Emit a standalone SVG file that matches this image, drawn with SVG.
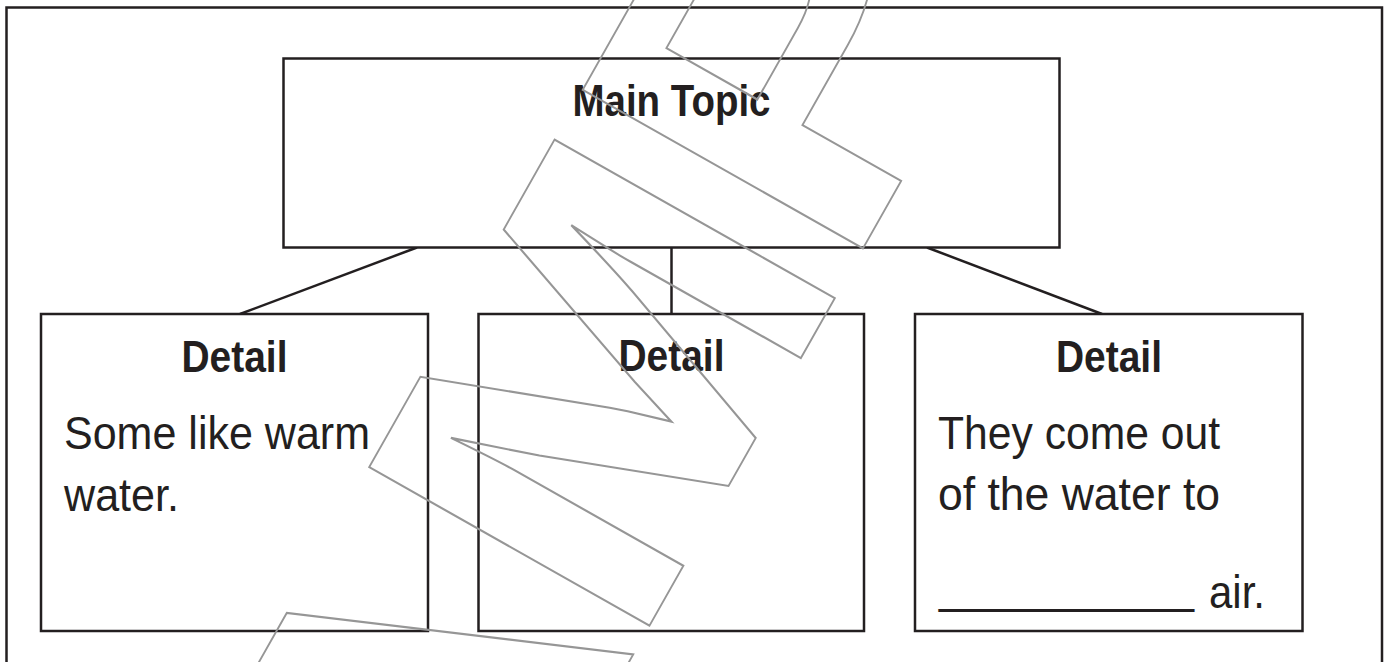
<svg xmlns="http://www.w3.org/2000/svg" width="1387" height="662" viewBox="0 0 1387 662">
<style>
.box{fill:#fff;stroke:#231f20;stroke-width:2.5}
.frame{fill:none;stroke:#231f20;stroke-width:2.5}
.conn{stroke:#231f20;stroke-width:2.5;fill:none}
.h{font-family:"Liberation Sans",Arial,sans-serif;font-weight:bold;font-size:44px;fill:#231f20;text-anchor:middle}
.b{font-family:"Liberation Sans",Arial,sans-serif;font-size:46px;fill:#231f20}
.wm{font-family:"Liberation Sans",Arial,sans-serif;font-weight:bold;font-size:468px;fill:none;stroke:#969696;stroke-width:2}
</style>
<rect class="frame" x="6.5" y="7.5" width="1375.5" height="700"/>
<g id="connectors">
<line class="conn" x1="417" y1="247.5" x2="240" y2="314"/>
<line class="conn" x1="671.5" y1="247.5" x2="671.5" y2="314"/>
<line class="conn" x1="927" y1="247.5" x2="1102" y2="314"/>
</g>
<g id="main-topic">
<rect class="box" x="283.5" y="58.5" width="776" height="189"/>
<text class="h" x="671.5" y="116" font-size="45" textLength="198" lengthAdjust="spacingAndGlyphs">Main Topic</text>
</g>
<g id="detail-1">
<rect class="box" x="41" y="314" width="387" height="317"/>
<text class="h" x="234.5" y="371.5" textLength="106" lengthAdjust="spacingAndGlyphs">Detail</text>
<text class="b" x="64" y="448.5" textLength="306" lengthAdjust="spacingAndGlyphs">Some like warm</text>
<text class="b" x="64" y="511" textLength="115" lengthAdjust="spacingAndGlyphs">water.</text>
</g>
<g id="detail-2">
<rect class="box" x="478.5" y="314" width="385.5" height="317"/>
<text class="h" x="671.5" y="370.5" textLength="106" lengthAdjust="spacingAndGlyphs">Detail</text>
</g>
<g id="detail-3">
<rect class="box" x="915" y="314" width="387.5" height="317"/>
<text class="h" x="1109" y="372" textLength="106" lengthAdjust="spacingAndGlyphs">Detail</text>
<text class="b" x="938" y="449" textLength="282" lengthAdjust="spacingAndGlyphs">They come out</text>
<text class="b" x="938" y="510" textLength="282" lengthAdjust="spacingAndGlyphs">of the water to</text>
<text class="b"><tspan x="939" y="603" textLength="255" lengthAdjust="spacingAndGlyphs">__________</tspan><tspan x="1209" y="607.5" textLength="56" lengthAdjust="spacingAndGlyphs">air.</tspan></text>
</g>
<g id="watermark">
<text class="wm" transform="translate(651,623) rotate(-60.5) scale(1.15,1)" vector-effect="non-scaling-stroke" x="-669 -357 -34 343 655 941" y="0">SAMPLE</text>
</g>
</svg>
